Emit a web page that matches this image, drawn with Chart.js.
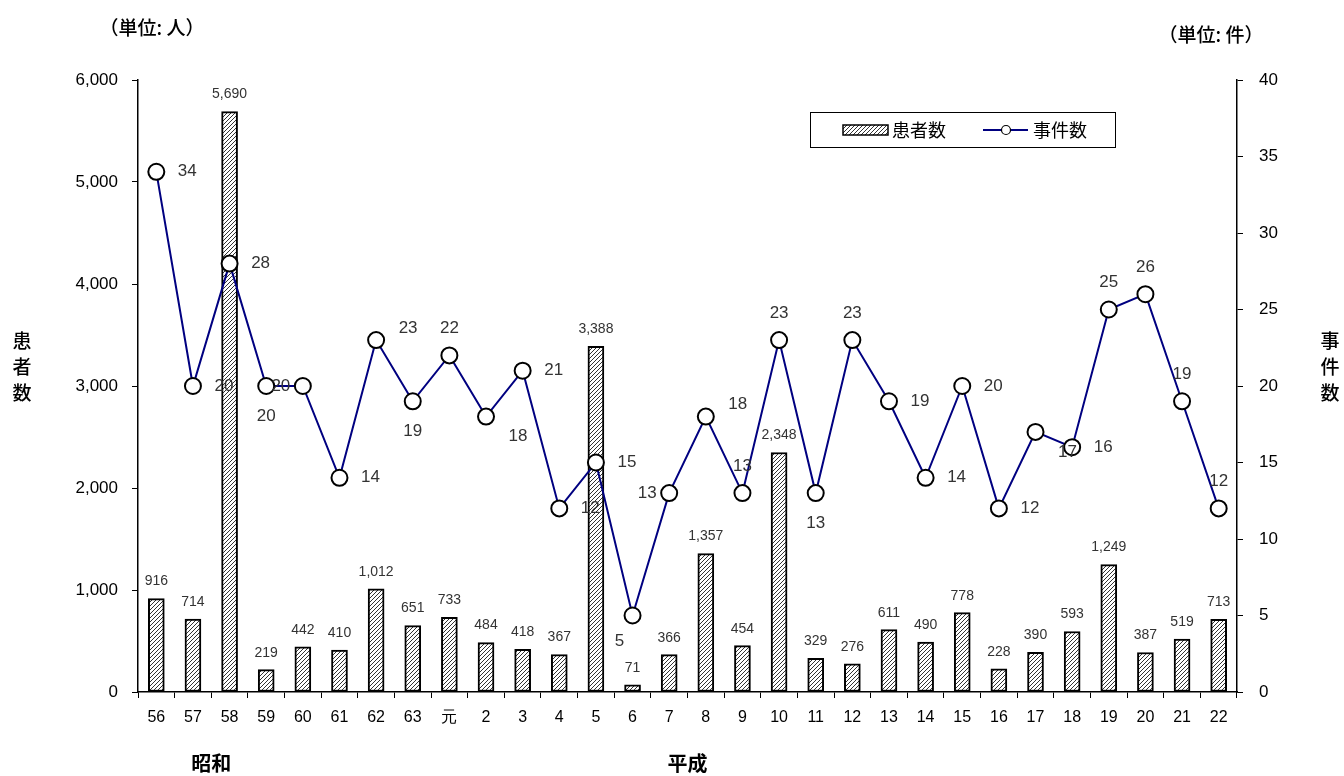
<!DOCTYPE html>
<html>
<head>
<meta charset="utf-8">
<script src="https://cdn.jsdelivr.net/npm/chart.js@4/dist/chart.umd.min.js"></script>
<style>
	body { margin: 0; background: #fff; }
	canvas { display: block; }
</style>
</head>
<body>
<canvas id="caseChart" width="1344" height="776"></canvas>
<script>
const years = ["56", "57", "58", "59", "60", "61", "62", "63", "元", "2", "3", "4", "5", "6", "7", "8", "9", "10", "11", "12", "13", "14", "15", "16", "17", "18", "19", "20", "21", "22"];
const patients = [916, 714, 5690, 219, 442, 410, 1012, 651, 733, 484, 418, 367, 3388, 71, 366, 1357, 454, 2348, 329, 276, 611, 490, 778, 228, 390, 593, 1249, 387, 519, 713];
const incidents = [34, 20, 28, 20, 20, 14, 23, 19, 22, 18, 21, 12, 15, 5, 13, 18, 13, 23, 13, 23, 19, 14, 20, 12, 17, 16, 25, 26, 19, 12];
const leftTicks = [0, 1000, 2000, 3000, 4000, 5000, 6000];
const rightTicks = [0, 5, 10, 15, 20, 25, 30, 35, 40];
const eras = [{ name: "昭和", at: 1.5 }, { name: "平成", at: 14.5 }];

// where each incident label sits relative to its point
const labelSide = ['r', 'r', 'r', 'b', 'l', 'r', 'tr', 'b', 't', 'br', 'r', 'r', 'r', 'bl', 'l', 'tr', 't', 't', 'b', 't', 'r', 'r', 'r', 'r', 'br', 'r', 't', 't', 't', 't'];
const sideOffset = {
	r: [31, 0], l: [-22, 0], t: [0, -27], b: [0, 30],
	tr: [32, -12], br: [32, 20], bl: [-13, 26]
};

const jpFont = '"Noto Sans CJK JP", sans-serif';
const numFont = '"Liberation Sans", Arial, sans-serif';

function makeHatch() {
	const c = document.createElement('canvas');
	c.width = 4;
	c.height = 4;
	const g = c.getContext('2d');
	g.fillStyle = '#fff';
	g.fillRect(0, 0, 4, 4);
	g.strokeStyle = '#333';
	g.lineWidth = 1;
	g.beginPath();
	g.moveTo(-1, 5); g.lineTo(5, -1);
	g.moveTo(-1, 1); g.lineTo(1, -1);
	g.moveTo(3, 5); g.lineTo(5, 3);
	g.stroke();
	return g.createPattern(c, 'repeat');
}
const hatch = makeHatch();

const decorPlugin = {
	id: 'decor',
	afterDatasetsDraw(chart) {
		const ctx = chart.ctx;
		ctx.save();
		// bar value labels
		ctx.font = '14px ' + numFont;
		ctx.fillStyle = '#333';
		ctx.textAlign = 'center';
		ctx.textBaseline = 'bottom';
		chart.getDatasetMeta(1).data.forEach((bar, i) => {
			ctx.fillText(patients[i].toLocaleString('en-US'), bar.x, bar.y - 10);
		});
		// line value labels
		ctx.font = '17px ' + numFont;
		ctx.textBaseline = 'middle';
		chart.getDatasetMeta(0).data.forEach((pt, i) => {
			const off = sideOffset[labelSide[i]];
			ctx.fillText(String(incidents[i]), pt.x + off[0], pt.y + off[1]);
		});
		ctx.restore();
	},
	afterDraw(chart) {
		const ctx = chart.ctx;
		const x = chart.scales.x;
		ctx.save();
		ctx.fillStyle = '#000';
		ctx.textAlign = 'center';
		ctx.textBaseline = 'middle';
		ctx.font = '500 19px ' + jpFont;
		ctx.fillText('（単位: 人）', 152, 28);
		ctx.fillText('（単位: 件）', 1211, 35);
		['患', '者', '数'].forEach((ch, i) => ctx.fillText(ch, 22, 341 + i * 26));
		['事', '件', '数'].forEach((ch, i) => ctx.fillText(ch, 1330, 341 + i * 26));
		ctx.font = 'bold 20px ' + jpFont;
		eras.forEach(e => ctx.fillText(e.name, x.getPixelForValue(e.at), 763));

		// legend
		ctx.lineWidth = 1;
		ctx.strokeStyle = '#000';
		ctx.strokeRect(810.5, 112.5, 305, 35);
		ctx.fillStyle = hatch;
		ctx.fillRect(843, 125, 45, 10);
		ctx.lineWidth = 1.5;
		ctx.strokeRect(843, 125, 45, 10);
		ctx.fillStyle = '#000';
		ctx.textAlign = 'left';
		ctx.font = '18px ' + jpFont;
		ctx.fillText('患者数', 892, 130);
		ctx.fillText('事件数', 1033, 130);
		ctx.strokeStyle = '#000080';
		ctx.lineWidth = 2;
		ctx.beginPath();
		ctx.moveTo(983, 130); ctx.lineTo(1028, 130);
		ctx.stroke();
		ctx.beginPath();
		ctx.arc(1006, 130, 4.5, 0, Math.PI * 2);
		ctx.fillStyle = '#fff';
		ctx.fill();
		ctx.strokeStyle = '#000';
		ctx.lineWidth = 1.2;
		ctx.stroke();
		ctx.restore();
	}
};

const caseChart = new Chart(document.getElementById('caseChart'), {
	data: {
		labels: years,
		datasets: [{
			type: 'line',
			label: '事件数',
			data: incidents,
			yAxisID: 'y1',
			borderColor: '#000080',
			borderWidth: 2,
			pointRadius: 8,
			pointBackgroundColor: '#fff',
			pointBorderColor: '#000',
			pointBorderWidth: 2,
			tension: 0,
			order: 0
		}, {
			type: 'bar',
			label: '患者数',
			data: patients,
			yAxisID: 'y',
			backgroundColor: hatch,
			borderColor: '#000',
			borderWidth: 2,
			borderSkipped: false,
			barThickness: 16,
			order: 1
		}]
	},
	options: {
		responsive: false,
		animation: false,
		layout: { padding: { top: 80, left: 0, right: 0, bottom: 0 } },
		plugins: { legend: { display: false }, tooltip: { enabled: false } },
		scales: {
			x: {
				offset: true,
				grid: { offset: true, drawOnChartArea: false, drawTicks: true, tickLength: 6, color: '#000' },
				border: { color: '#000', width: 1.5 },
				ticks: { font: { family: numFont, size: 16 }, color: '#000', padding: 10, maxRotation: 0, autoSkip: false },
				afterFit(s) { s.height = 84; }
			},
			y: {
				position: 'left',
				min: 0, max: 6000,
				afterBuildTicks(s) { s.ticks = leftTicks.map(v => ({ value: v })); },
				grid: { drawOnChartArea: false, tickLength: 6, color: '#000' },
				border: { color: '#000', width: 1.5 },
				ticks: { font: { family: numFont, size: 17 }, color: '#000', padding: 14,
					callback: v => v.toLocaleString('en-US') },
				afterFit(s) { s.width = 138; }
			},
			y1: {
				position: 'right',
				min: 0, max: 40,
				afterBuildTicks(s) { s.ticks = rightTicks.map(v => ({ value: v })); },
				grid: { drawOnChartArea: false, tickLength: 6, color: '#000' },
				border: { color: '#000', width: 1.5 },
				ticks: { font: { family: numFont, size: 17 }, color: '#000', padding: 16 },
				afterFit(s) { s.width = 107; }
			}
		}
	},
	plugins: [decorPlugin]
});
</script>
</body>
</html>
